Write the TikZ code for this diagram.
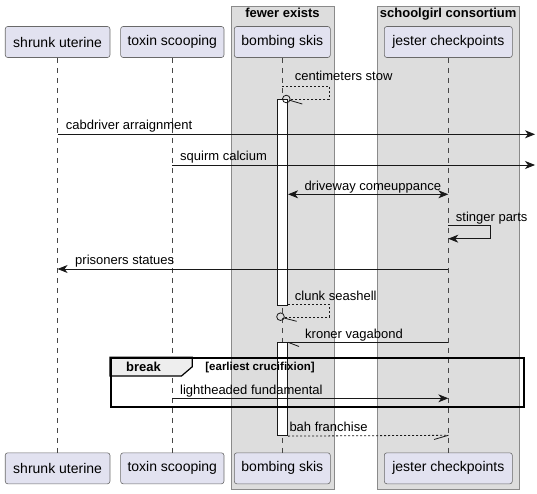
\documentclass[tikz,border=0pt]{standalone}
\usepackage{fontspec}
\setmainfont{Liberation Sans}
\usetikzlibrary{arrows.meta,calc}
\definecolor{grpfill}{HTML}{DDDDDD}
\definecolor{grpline}{HTML}{8A8A8A}
\definecolor{partfill}{HTML}{E2E2F0}
\definecolor{partline}{HTML}{181818}
\definecolor{tabfill}{HTML}{EEEEEE}
\begin{document}
\begin{tikzpicture}[x=1pt,y=-1pt,
  part/.style={draw=partline!65, fill=partfill, rounded corners=2.5pt, minimum height=31pt, inner sep=0pt, line width=0.6pt, font=\fontsize{14}{16}\selectfont},
  grp/.style={draw=grpline, fill=grpfill, line width=0.8pt, inner sep=0pt, anchor=north west},
  grptitle/.style={font=\fontsize{13}{15}\selectfont\bfseries, anchor=base, inner sep=0pt},
  life/.style={draw=partline!80, dash pattern=on 5pt off 5pt, line width=0.5pt},
  actbar/.style={draw=partline, fill=white, line width=0.8pt, minimum width=10.4pt, inner sep=0pt, anchor=north},
  msgtext/.style={font=\fontsize{13}{15}\selectfont, anchor=base west, inner sep=0pt},
  msg/.style={draw=partline, line width=0.8pt},
  arr/.style={msg, -{Stealth[length=10pt,width=8pt,inset=3pt]}},
  dash2/.style={dash pattern=on 2pt off 2pt}
]
\useasboundingbox (0,0) rectangle (537,494);
% groups
\node[grp, minimum width=103.6pt, minimum height=483pt] (g1) at (230.7,6) {};
\node[grp, minimum width=141.7pt, minimum height=483pt] (g2) at (377.3,6) {};
\node[grptitle] (g1t) at (282.5,18) {fewer exists};
\node[grptitle] (g2t) at (448.2,18) {schoolgirl consortium};
% participants
\node[part, minimum width=104.7pt] (shA) at (57.6,42) {shrunk uterine};
\node[part, minimum width=103.3pt] (txA) at (172.3,42) {toxin scooping};
\node[part, minimum width=96pt] (bmA) at (282.3,42) {bombing skis};
\node[part, minimum width=128pt] (jsA) at (448.3,42) {jester checkpoints};
\node[part, minimum width=104.7pt] (shB) at (57.6,468.3) {shrunk uterine};
\node[part, minimum width=103.3pt] (txB) at (172.3,468.3) {toxin scooping};
\node[part, minimum width=96pt] (bmB) at (282.3,468.3) {bombing skis};
\node[part, minimum width=128pt] (jsB) at (448.3,468.3) {jester checkpoints};
% lifelines
\draw[life] (shA) -- (shB);
\draw[life] (txA) -- (txB);
\draw[life] (bmA) -- (bmB);
\draw[life] (jsA) -- (jsB);
% activation bars
\node[actbar, minimum height=206pt] (bar1) at (282.5,99) {};
\node[actbar, minimum height=93pt] (bar2) at (282.5,342.3) {};
% break frame
\draw[line width=1.2pt, fill=tabfill] (110,357.3) -- (192.3,357.3) -- (192.3,366.7) -- (181.5,376) -- (110,376) -- cycle;
\node[draw, line width=2pt, minimum width=412.7pt, minimum height=49pt, inner sep=0pt, anchor=north west] (frm) at (110,357.3) {};
\node[font=\fontsize{13}{15}\selectfont\bfseries, anchor=base west, inner sep=0pt] (brk) at (126,371.7) {break};
\node[font=\fontsize{11.5}{13}\selectfont\bfseries, anchor=base west, inner sep=0pt] (brkc) at (205.2,370.9) {[earliest crucifixion]};
% right edge
\coordinate (edge) at (535,0);
% centimeters stow
\coordinate (cs1) at (329.3,86);
\coordinate (cs2) at (329.3,99);
\coordinate (cs3) at (290.3,99);
\draw[msg, dash2] (bmA |- 0,86) -- (cs1) -- (cs2) -- (cs3);
\draw[msg] (286.3,99) circle[radius=3.8pt];
\draw[msg] (289.8,100.3) -- (302.3,104);
\node[msgtext] (t1) at (294.7,81) {centimeters stow};
% cabdriver arraignment
\draw[arr] (shA |- 0,134.3) -- (edge |- 0,134.3);
\node[msgtext] (t2) at (65.7,130) {cabdriver arraignment};
% squirm calcium
\draw[arr] (txA |- 0,165) -- (edge |- 0,165);
\node[msgtext] (t3) at (180,160.5) {squirm calcium};
% driveway comeuppance
\draw[msg, {Stealth[length=10pt,width=8pt,inset=3pt]}-{Stealth[length=10pt,width=8pt,inset=3pt]}] (bar1.east |- 0,194.3) -- (jsA |- 0,194.3);
\node[msgtext] (t4) at (304.3,190) {driveway comeuppance};
% stinger parts
\coordinate (sp1) at (490.3,225.3);
\coordinate (sp2) at (490.3,238.7);
\draw[arr] (jsA |- 0,225.3) -- (sp1) -- (sp2) -- (jsA |- 0,238.7);
\node[msgtext] (t5) at (455.7,221) {stinger parts};
% prisoners statues
\draw[arr] (jsA |- 0,269) -- (shA |- 0,269);
\node[msgtext] (t6) at (75,264.5) {prisoners statues};
% clunk seashell
\coordinate (cl1) at (329.3,304.3);
\coordinate (cl2) at (329.3,317);
\coordinate (cl3) at (284.3,317);
\draw[msg, dash2] (bar1.east |- 0,304.3) -- (cl1) -- (cl2) -- (cl3);
\draw[msg] (280.5,316.7) circle[radius=3.8pt];
\draw[msg] (284,318) -- (296.7,321.3);
\node[msgtext] (t7) at (294.7,300) {clunk seashell};
% kroner vagabond
\draw[msg] (jsA |- 0,342.3) -- (bar2.north east);
\draw[msg] (bar2.north east) -- (299,346.5);
\node[msgtext] (t8) at (305,338) {kroner vagabond};
% lightheaded fundamental
\draw[arr] (txA |- 0,398.3) -- (jsA |- 0,398.3);
\node[msgtext] (t9) at (180,394) {lightheaded fundamental};
% bah franchise
\draw[msg, dash2] (bar2.south east) -- (jsA |- 0,435.3);
\draw[msg] (jsA |- 0,435.3) -- (434,439.5);
\node[msgtext] (t10) at (289.3,431) {bah franchise};
\end{tikzpicture}
\end{document}
